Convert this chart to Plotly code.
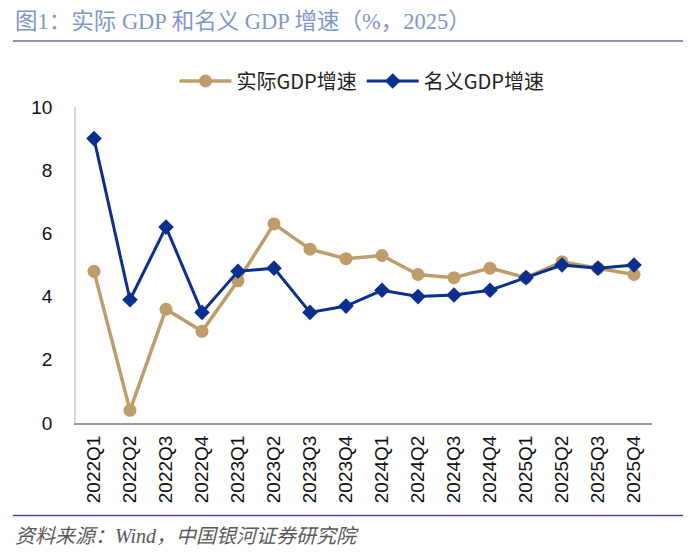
import plotly.graph_objects as go

quarters = ["2022Q1", "2022Q2", "2022Q3", "2022Q4", "2023Q1", "2023Q2", "2023Q3", "2023Q4",
            "2024Q1", "2024Q2", "2024Q3", "2024Q4", "2025Q1", "2025Q2", "2025Q3", "2025Q4"]
real_gdp = [4.8, 0.4, 3.6, 2.9, 4.5, 6.3, 5.5, 5.2, 5.3, 4.7, 4.6, 4.9, 4.6, 5.1, 4.9, 4.7]
nominal_gdp = [9.0, 3.9, 6.2, 3.5, 4.8, 4.9, 3.5, 3.7, 4.2, 4.0, 4.05, 4.2, 4.6, 5.0, 4.9, 5.0]

TAN = "#bf9d6a"
NAVY = "#0a2f8f"

fig = go.Figure()
fig.add_trace(go.Scatter(x=quarters, y=real_gdp, name="实际GDP增速", mode="lines+markers",
                         line=dict(color=TAN, width=3.5),
                         marker=dict(symbol="circle", size=13, color=TAN)))
fig.add_trace(go.Scatter(x=quarters, y=nominal_gdp, name="名义GDP增速", mode="lines+markers",
                         line=dict(color=NAVY, width=3),
                         marker=dict(symbol="diamond", size=12, color=NAVY)))

# page body adds an 8px offset; work in reference pixel coordinates minus that offset
OFF = 8
W, H = 700 - OFF, 559 - OFF
L, R, T = 76 - OFF, 700 - 652, 107 - OFF
B = H - (423 - OFF)
ph = H - T - B

def py(pix):
    return (H - B - (pix - OFF)) / ph

def px(pix):
    return ((pix - OFF) - L) / (W - L - R)

fig.update_layout(
    width=W, height=H,
    margin=dict(l=L, r=R, t=T, b=B, autoexpand=False),
    paper_bgcolor="white", plot_bgcolor="white",
    showlegend=True,
    legend=dict(orientation="h", x=px(362), xanchor="center", y=py(81), yanchor="middle",
                font=dict(family="Noto Sans CJK SC, Liberation Sans", size=20, color="#222"),
                itemwidth=52, traceorder="normal", bgcolor="rgba(0,0,0,0)"),
    xaxis=dict(type="category", range=[-0.5, len(quarters) - 0.5], showline=True,
               linecolor="#9a9a9a", linewidth=2,
               ticks="", tickangle=-90, showgrid=False, ticklabelstandoff=3,
               tickfont=dict(family="Liberation Sans, Arial", size=19, color="#111")),
    yaxis=dict(range=[0, 10], dtick=2, showline=True, linecolor="#d8d8d8", linewidth=1.5,
               ticks="", showgrid=False, zeroline=False, ticklabelstandoff=18,
               tickfont=dict(family="Liberation Sans, Arial", size=19, color="#111")),
    annotations=[
        dict(text="图1：实际 GDP 和名义 GDP 增速（%，2025）", xref="paper", yref="paper",
             x=px(13), y=py(22), xanchor="left", yanchor="middle", showarrow=False,
             font=dict(family="Liberation Serif, Noto Sans CJK SC", size=22.5, color="#7f98c9")),
        dict(text="资料来源：Wind，中国银河证券研究院", xref="paper", yref="paper",
             x=px(13), y=py(536), xanchor="left", yanchor="middle", showarrow=False,
             font=dict(family="Liberation Serif, Noto Sans CJK SC", size=20, color="#595959",
                       style="italic")),
    ],
    shapes=[
        dict(type="line", xref="paper", yref="paper", x0=px(13), x1=px(683), y0=py(41), y1=py(41),
             line=dict(color="#6d6da8", width=1.5)),
        dict(type="line", xref="paper", yref="paper", x0=px(13), x1=px(683), y0=py(515.5), y1=py(515.5),
             line=dict(color="#4a4a9c", width=1.5)),
    ],
)

fig.write_html("out.html")
